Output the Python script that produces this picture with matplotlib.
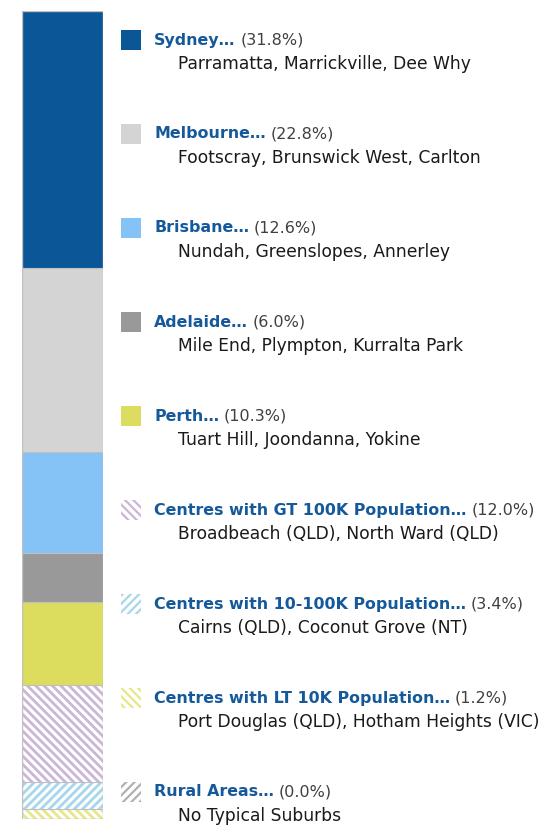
import matplotlib.pyplot as plt
import numpy as np

regions = ['Sydney', 'Melbourne', 'Brisbane', 'Adelaide', 'Perth',
           'Centres with GT 100K Population', 'Centres with 10-100K Population',
           'Centres with LT 10K Population', 'Rural Areas']
shares = [31.8, 22.8, 12.6, 6.0, 10.3, 12.0, 3.4, 1.2, 0.0]
suburbs = ['Parramatta, Marrickville, Dee Why',
           'Footscray, Brunswick West, Carlton',
           'Nundah, Greenslopes, Annerley',
           'Mile End, Plympton, Kurralta Park',
           'Tuart Hill, Joondanna, Yokine',
           'Broadbeach (QLD), North Ward (QLD)',
           'Cairns (QLD), Coconut Grove (NT)',
           'Port Douglas (QLD), Hotham Heights (VIC)',
           'No Typical Suburbs']
colors = ['#0b5697', '#d4d4d4', '#85c2f5', '#999999', '#dcdc5e',
          'white', 'white', 'white', 'white']
hatch_colors = [None, None, None, None, None, '#cbb6d6', '#a6d6ea', '#e6e68a', '#b0b0b0']
hatches = [None, None, None, None, None, '\\\\\\\\', '////', '\\\\\\\\', '////']

plt.rcParams['font.family'] = ['DejaVu Sans']
fig = plt.figure(figsize=(5.58, 8.26), dpi=100)
W, H = 558, 826

# stacked bar
ax = fig.add_axes([22 / W, 7 / H, 81 / W, 808 / H])
bottom = 0
for i in range(len(regions)):
    if shares[i] > 0:
        if hatches[i]:
            plt.rcParams['hatch.color'] = hatch_colors[i]
            plt.rcParams['hatch.linewidth'] = 2.0
            ax.bar(0, shares[i], bottom=bottom, width=1, color='white',
                   hatch=hatches[i], edgecolor=hatch_colors[i], linewidth=0)
        else:
            ax.bar(0, shares[i], bottom=bottom, width=1, color=colors[i], linewidth=0)
        bottom += shares[i]
ax.set_xlim(-0.5, 0.5)
ax.set_ylim(bottom, 0)
ax.axis('off')
ax.add_patch(plt.Rectangle((-0.5, 0), 1, bottom, fill=False, edgecolor='#c0c0c0', lw=1))
bottom = 0
for s in shares[:-1]:
    bottom += s
    ax.axhline(bottom, color='#c0c0c0', lw=0.8)

# legend
fig.canvas.draw()
renderer = fig.canvas.get_renderer()
for i in range(len(regions)):
    yc = 40 + i * 94
    sq = fig.add_axes([121 / W, 1 - (yc + 10) / H, 20 / W, 20 / H])
    sq.axis('off')
    sq.set_xlim(0, 1)
    sq.set_ylim(0, 1)
    if hatches[i]:
        plt.rcParams['hatch.color'] = hatch_colors[i]
        plt.rcParams['hatch.linewidth'] = 1.6
        sq.add_patch(plt.Rectangle((0, 0), 1, 1, facecolor='white', hatch=hatches[i],
                                   edgecolor=hatch_colors[i], linewidth=0))
    else:
        sq.add_patch(plt.Rectangle((0, 0), 1, 1, facecolor=colors[i], linewidth=0))
    t = fig.text(154 / W, 1 - yc / H, regions[i] + '\u2026', fontsize=11.4,
                 fontweight='bold', color='#15599a', va='center', ha='left')
    bb = t.get_window_extent(renderer)
    fig.text((bb.x1 + 5) / W, 1 - yc / H, '(%.1f%%)' % shares[i], fontsize=11.5,
             color='#404040', va='center', ha='left')
    fig.text(178 / W, 1 - (yc + 24) / H, suburbs[i], fontsize=12.3,
             color='#1a1a1a', va='center', ha='left')

fig.savefig('out.png', dpi=100)
